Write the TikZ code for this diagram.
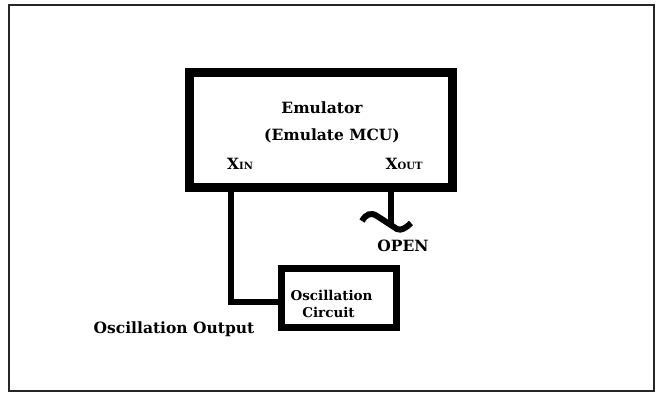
\documentclass[tikz,border=0pt]{standalone}
\usepackage{fontspec}
\setmainfont{DejaVu Serif}
\usepackage{tikz}
\usetikzlibrary{positioning,calc}

\begin{document}
\begin{tikzpicture}[
	x=1pt, y=-1pt,
	frame/.style={
		draw=black!85,
		line width=2pt
	},
	emubox/.style={
		rectangle,
		draw=black,
		line width=9pt,
		minimum width=263pt,
		minimum height=115.5pt
	},
	oscbox/.style={
		rectangle,
		draw=black,
		line width=7pt,
		minimum width=115pt,
		minimum height=59pt
	},
	wire/.style={
		draw=black,
		line width=6.5pt,
		line join=miter
	},
	biglabel/.style={
		font=\fontsize{15.5}{18}\selectfont\bfseries,
		anchor=base,
		inner sep=0pt
	},
	osclabel/.style={
		font=\fontsize{13.5}{16}\selectfont\bfseries,
		anchor=base,
		inner sep=0pt
	}
	]
	
	% Outer frame
	\useasboundingbox (0,0) rectangle (656,392);
	\draw[frame] (9,5) rectangle (654,391);
	
	% Boxes
	\node[emubox] (emu) at (321,129.75) {};
	\node[oscbox] (osc) at (339,298) {};
	
	% Emulator texts
	\node[biglabel] (emuname) at (322,113) {Emulator};
	\node[biglabel] (emumcu) at (332,140) {(Emulate MCU)};
	\node[biglabel] (xin) at (240,169) {X{\fontsize{10}{12}\selectfont IN}};
	\node[biglabel] (xout) at (404,169) {X{\fontsize{10}{12}\selectfont OUT}};
	
	% Oscillation circuit texts
	\node[osclabel] (oscname) at (331.5,300) {Oscillation};
	\node[osclabel] (osccirc) at (328.5,317) {Circuit};
	
	% Pins
	\coordinate (xinpin) at (231,187.5);
	\coordinate (xoutpin) at (391,187.5);
	\coordinate (brk) at (391,224);
	
	% Wires
	\draw[wire] (xinpin) |- ([yshift=-4pt]osc.west);
	\draw[wire] (xoutpin) -- (brk);
	
	% Open end
	\draw[wire, line width=6pt] (362,221) .. controls (366,214) and (371,212) .. (377,216) -- (397,229) .. controls (401,231) and (406,228) .. (411,223);
	\node[biglabel] (open) at (403,251.5) {OPEN};
	
	% Output label
	\node[biglabel] (oscout) at (174,333) {Oscillation Output};
	
\end{tikzpicture}
\end{document}
